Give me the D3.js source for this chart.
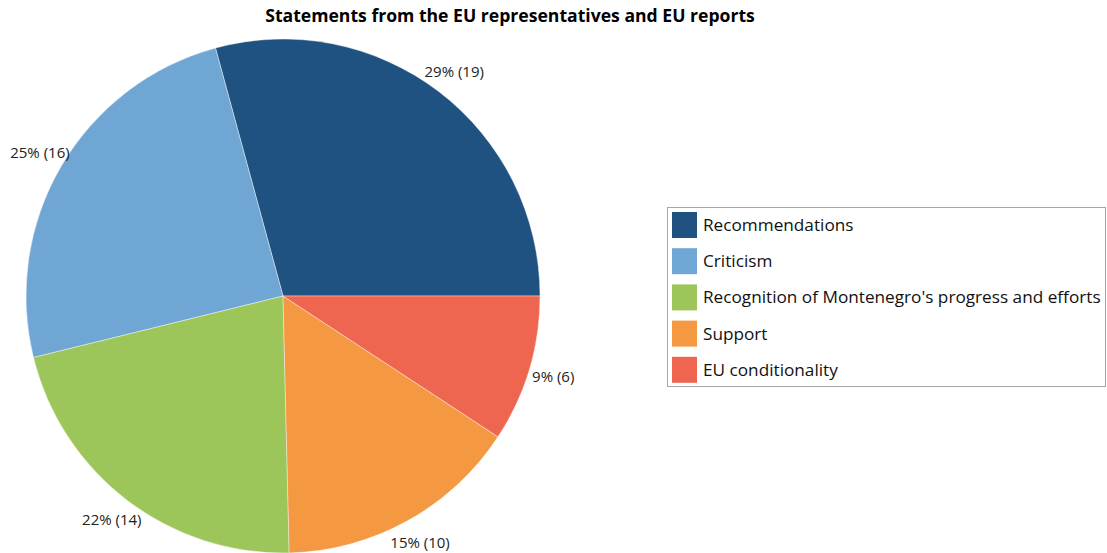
<!DOCTYPE html>
<html>
<head>
<meta charset="utf-8">
<script src="https://cdn.jsdelivr.net/npm/d3@7"></script>
<style>
  body { margin: 0; background: #fff; }
  svg { display: block; font-family: "Open Sans", "Noto Sans", sans-serif; }
</style>
</head>
<body>
<div id="chart"></div>
<script>
const categories = ["Recommendations", "Criticism", "Recognition of Montenegro's progress and efforts", "Support", "EU conditionality"];
const counts = [19, 16, 14, 10, 6];
const colors = ["#1f5281", "#6fa6d4", "#9cc65a", "#f49841", "#ee6650"];

const width = 1107, height = 553;
const cx = 283, cy = 296, radius = 257;

const svg = d3.select('#chart').append('svg')
    .attr('width', width)
    .attr('height', height);

svg.append('text')
    .attr('x', 510)
    .attr('y', 22)
    .attr('text-anchor', 'middle')
    .style('font-size', '17.6px')
    .style('font-weight', 'bold')
    .attr('fill', '#000')
    .text('Statements from the EU representatives and EU reports');

const total = d3.sum(counts);
const data = categories.map((c, i) => ({ name: c, value: counts[i], color: colors[i] }));

// start at 3 o'clock and go counter-clockwise
const pie = d3.pie()
    .sort(null)
    .value(d => d.value)
    .startAngle(Math.PI / 2)
    .endAngle(Math.PI / 2 - 2 * Math.PI);

const arc = d3.arc().innerRadius(0).outerRadius(radius);
const labelArc = d3.arc().innerRadius(282).outerRadius(282);

const g = svg.append('g').attr('transform', `translate(${cx},${cy})`);

const arcs = pie(data);

g.selectAll('path')
    .data(arcs)
    .join('path')
    .attr('d', arc)
    .attr('fill', d => d.data.color)
    .attr('stroke', '#fff')
    .attr('stroke-width', 0.4);

g.selectAll('text.lbl')
    .data(arcs)
    .join('text')
    .attr('class', 'lbl')
    .attr('transform', d => `translate(${labelArc.centroid(d)})`)
    .attr('text-anchor', 'middle')
    .attr('dy', '0.35em')
    .style('font-size', '15px')
    .attr('fill', '#222')
    .text(d => `${Math.round(d.data.value / total * 100)}% (${d.data.value})`);

// legend
const legend = svg.append('g').attr('transform', 'translate(667,207)');
legend.append('rect')
    .attr('x', 0.5).attr('y', 0.5)
    .attr('width', 438).attr('height', 179)
    .attr('fill', '#fff')
    .attr('stroke', '#a6a6a6');

const item = legend.selectAll('g.item')
    .data(data)
    .join('g')
    .attr('class', 'item')
    .attr('transform', (d, i) => `translate(5,${5 + i * 36.2})`);

item.append('rect')
    .attr('width', 25).attr('height', 26)
    .attr('fill', d => d.color);

item.append('text')
    .attr('x', 31)
    .attr('y', 13)
    .attr('dy', '0.35em')
    .style('font-size', '17.2px')
    .attr('fill', '#111')
    .text(d => d.name);
</script>
</body>
</html>
